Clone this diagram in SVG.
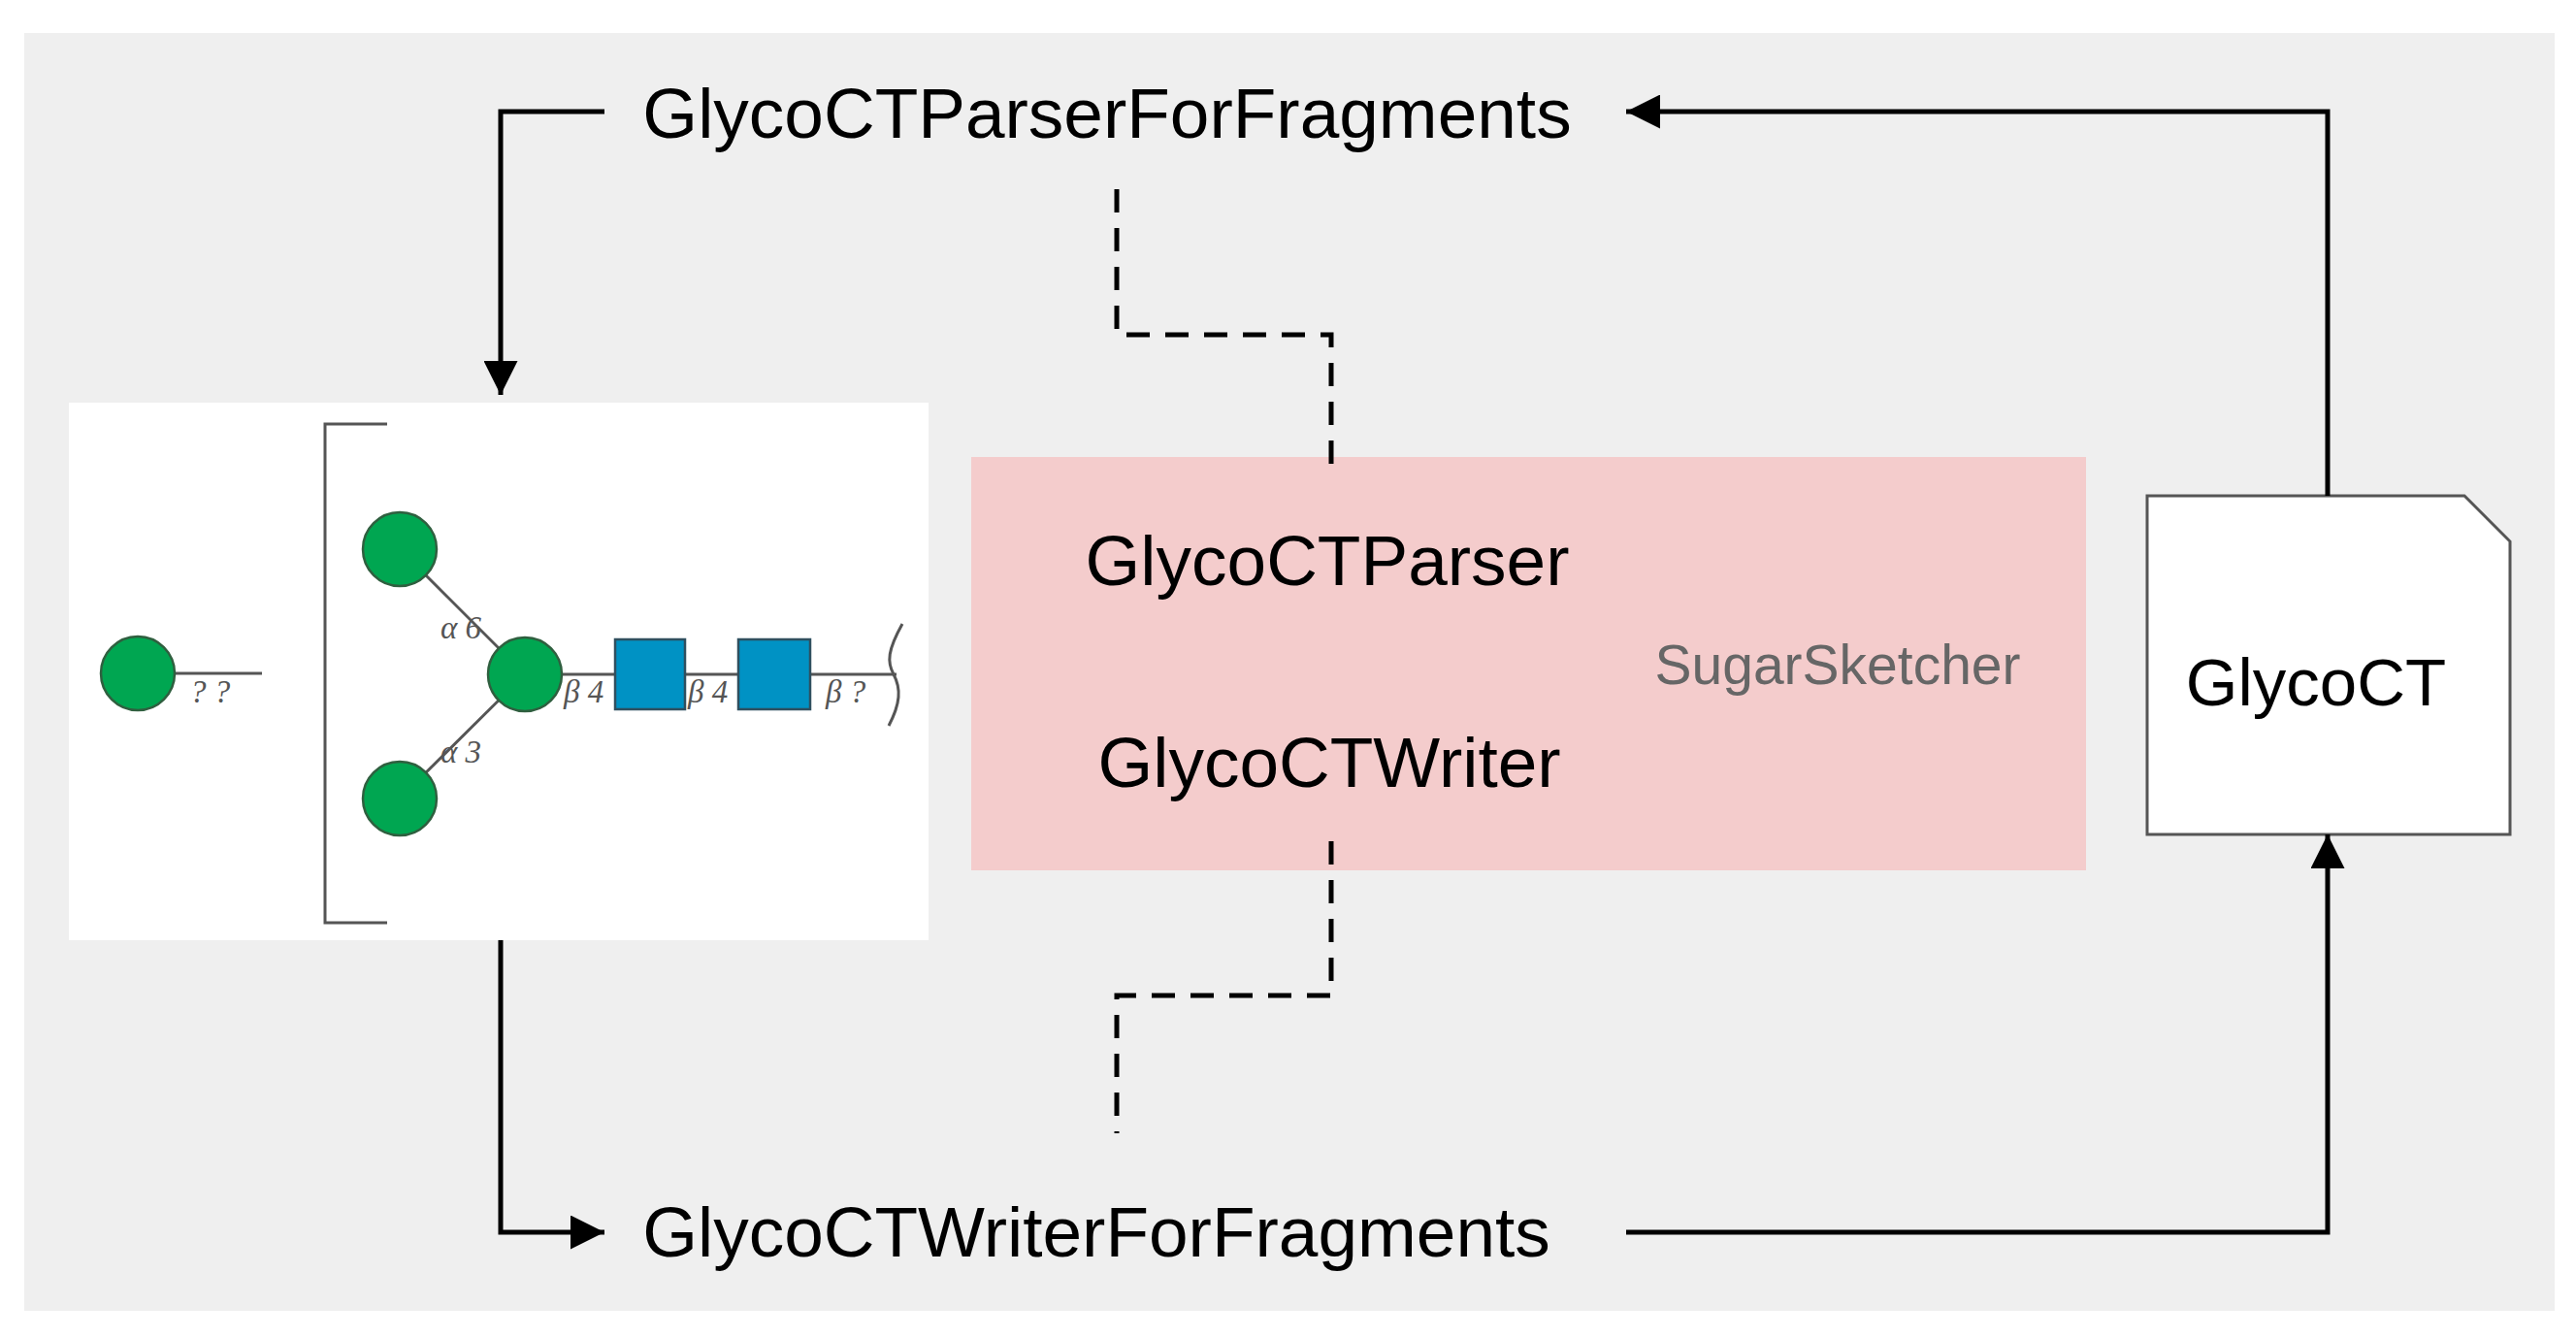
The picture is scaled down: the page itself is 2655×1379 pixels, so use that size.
<svg xmlns="http://www.w3.org/2000/svg" width="2655" height="1379" viewBox="0 0 2655 1379">
<style>
.t{font-family:"Liberation Sans",Arial,sans-serif;fill:#000}
.big{font-size:73px}
.mid{font-size:73px}
.lk{font-family:"Liberation Serif",serif;font-style:italic;font-size:33px;fill:#555}
.c{fill:none;stroke:#000;stroke-width:5}
.d{fill:none;stroke:#000;stroke-width:5;stroke-dasharray:24,16}
.g{fill:#00a651;stroke:#2f5f3f;stroke-width:2.5}
.s{fill:#0092c4;stroke:#2f4f5f;stroke-width:2.5}
.b{stroke:#555;stroke-width:3;fill:none}
</style>
<defs><marker id="a" viewBox="0 0 10 10" refX="10" refY="5" markerWidth="8" markerHeight="7" markerUnits="strokeWidth" orient="auto"><path d="M0,0L10,5L0,10z" fill="#000"/></marker></defs>
<rect width="2655" height="1379" fill="#fff"/>
<rect x="25" y="34" width="2608" height="1317" fill="#efefef"/>
<g id="glycan">
<rect x="71" y="415" width="886" height="554" fill="#fff"/>
<path class="b" d="M399,437H335V951H399"/>
<line class="b" x1="181" y1="694" x2="270" y2="694"/>
<line class="b" x1="541" y1="695" x2="924" y2="695"/>
<line class="b" x1="412" y1="566" x2="541" y2="695"/>
<line class="b" x1="412" y1="823" x2="541" y2="695"/>
<path class="b" d="M930,643C915,670 914,682 921,695C929,710 928,725 916,748"/>
<circle class="g" cx="142" cy="694" r="38"/>
<circle class="g" cx="412" cy="566" r="38"/>
<circle class="g" cx="541" cy="695" r="38"/>
<circle class="g" cx="412" cy="823" r="38"/>
<rect class="s" x="634" y="659" width="72" height="72"/>
<rect class="s" x="761" y="659" width="74" height="72"/>
<text class="lk" x="196" y="724">? ?</text>
<text class="lk" x="454" y="658">α 6</text>
<text class="lk" x="454" y="786">α 3</text>
<text class="lk" x="581" y="724">β 4</text>
<text class="lk" x="709" y="724">β 4</text>
<text class="lk" x="851" y="724">β ?</text>
</g>
<g id="sugarsketcher">
<rect x="1001" y="471" width="1149" height="426" fill="#f4cccc"/>
<text class="t mid" x="1368" y="603" text-anchor="middle">GlycoCTParser</text>
<text class="t mid" x="1370" y="811" text-anchor="middle">GlycoCTWriter</text>
<text class="t" x="1894" y="705" text-anchor="middle" font-size="57" style="fill:#666">SugarSketcher</text>
</g>
<g id="glycoct">
<path d="M2213,511H2540L2587,558V860H2213Z" fill="#fff" stroke="#555" stroke-width="3"/>
<text class="t" x="2387" y="727" text-anchor="middle" font-size="69">GlycoCT</text>
</g>
<g id="parserFrag"><text class="t big" x="1141" y="142" text-anchor="middle">GlycoCTParserForFragments</text></g>
<g id="writerFrag"><text class="t big" x="1130" y="1295" text-anchor="middle">GlycoCTWriterForFragments</text></g>
<g id="connectors">
<path class="c" d="M623,115H516V407" marker-end="url(#a)"/>
<path class="c" d="M2399,511V115H1676" marker-end="url(#a)"/>
<path class="c" d="M516,969V1270H623" marker-end="url(#a)"/>
<path class="c" d="M1676,1270H2399V860" marker-end="url(#a)"/>
<path class="d" d="M1151,195V345H1372V494"/>
<path class="d" d="M1372,867V1026H1151V1168"/>
</g>
</svg>
